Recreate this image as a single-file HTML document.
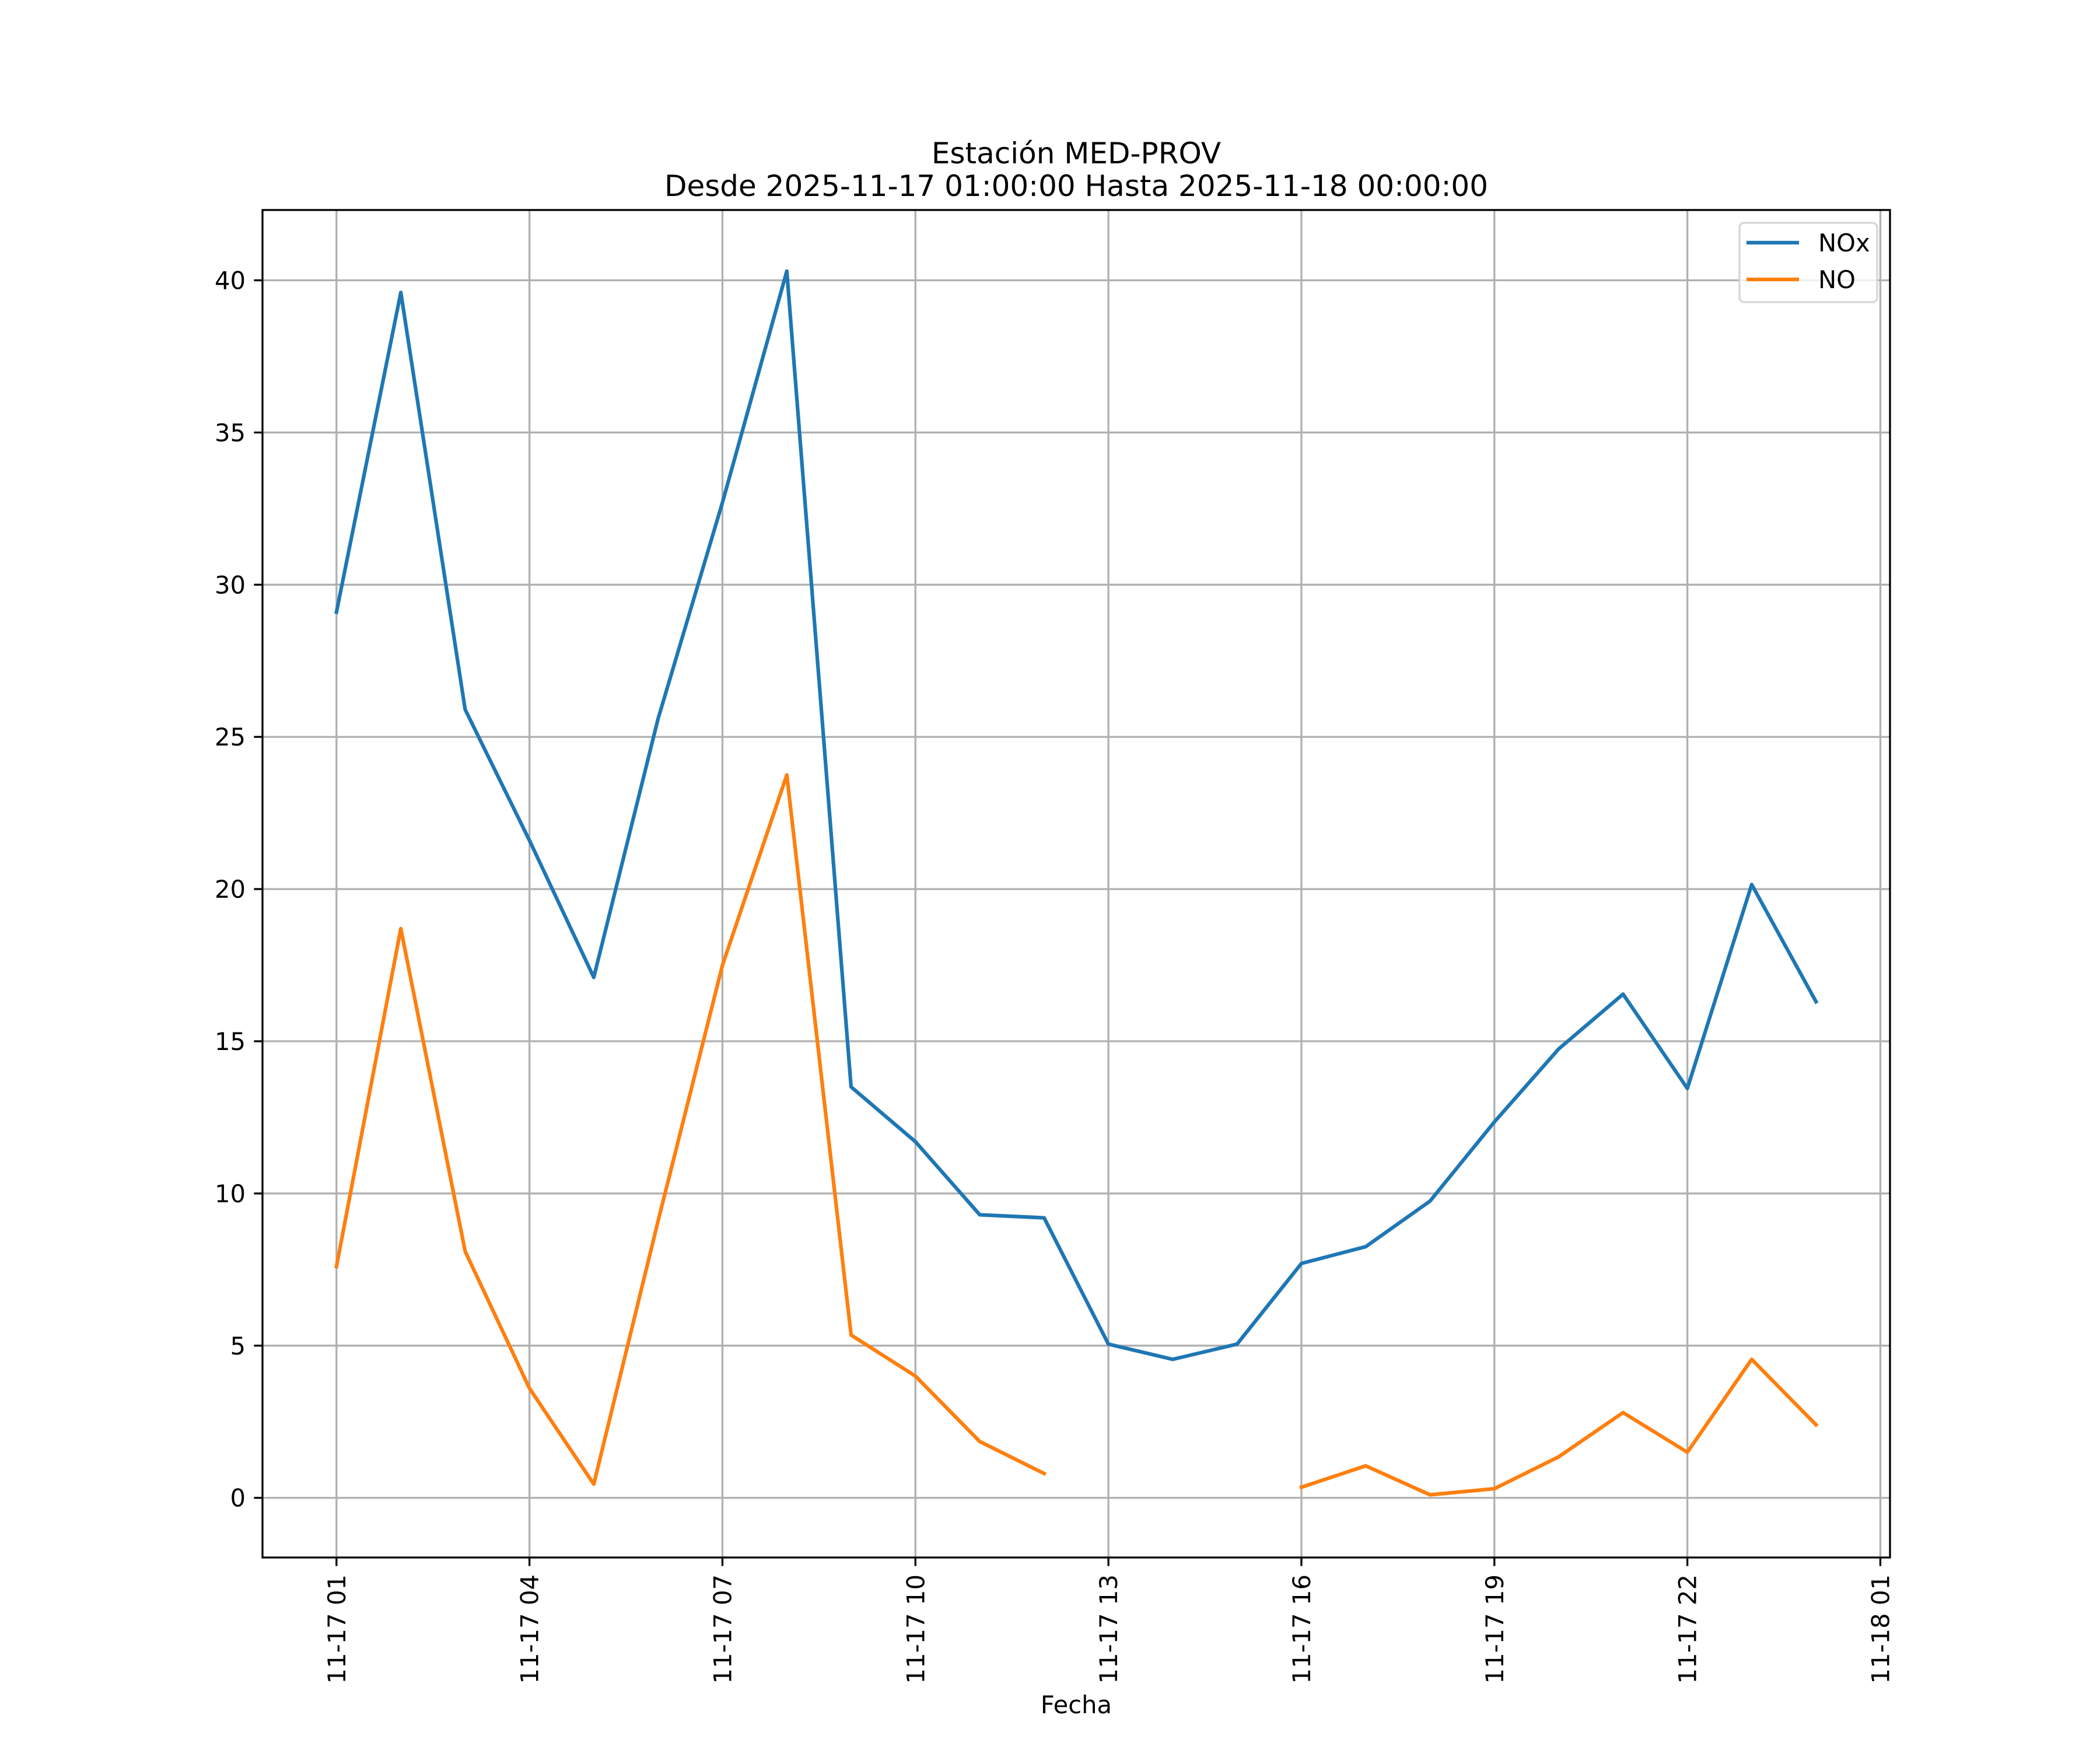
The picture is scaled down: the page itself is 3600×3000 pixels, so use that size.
<!DOCTYPE html>
<html><head><meta charset="utf-8"><style>html,body{margin:0;padding:0;background:#fff}svg{display:block}text{font-family:"DejaVu Sans","Liberation Sans",sans-serif;fill:#000}</style></head>
<body>
<svg id="chart" width="3600" height="3000" viewBox="0 0 3600 3000" xmlns="http://www.w3.org/2000/svg">
<rect width="3600" height="3000" fill="#fff"/>
<text x="1845" y="280" font-size="50" text-anchor="middle">Estación MED-PROV</text>
<text x="1845" y="336" font-size="50" text-anchor="middle">Desde 2025-11-17 01:00:00 Hasta 2025-11-18 00:00:00</text>
<g id="grid"></g>
<g id="series"></g>
<rect x="450" y="360" width="2790" height="2310" fill="none" stroke="#000" stroke-width="3.3"/>
<g id="ticks"></g>
<text x="1845" y="2937" font-size="41.7" text-anchor="middle">Fecha</text>
<g>
<rect x="2982" y="382" width="236" height="136" rx="8" fill="#fff" fill-opacity="0.8" stroke="#d6d6d6" stroke-width="3.3"/>
<line x1="2994" y1="416" x2="3084" y2="416" stroke="#1f77b4" stroke-width="6.25"/>
<text x="3117" y="431" font-size="41.7">NOx</text>
<line x1="2994" y1="479" x2="3084" y2="479" stroke="#ff7f0e" stroke-width="6.25"/>
<text x="3117" y="494" font-size="41.7">NO</text>
</g>
</svg>
<script>
const hours = [1,2,3,4,5,6,7,8,9,10,11,12,13,14,15,16,17,18,19,20,21,22,23,24];
const noxValues = [29.1,39.6,25.9,21.6,17.1,25.6,32.7,40.3,13.5,11.7,9.3,9.2,5.05,4.55,5.05,7.7,8.25,9.75,12.35,14.75,16.55,13.45,20.15,16.3];
const noValues = [7.6,18.7,8.1,3.6,0.45,9.1,17.5,23.75,5.35,4.0,1.85,0.8,null,null,null,0.35,1.05,0.1,0.3,1.35,2.8,1.5,4.55,2.4];
const xTickHours = [1,4,7,10,13,16,19,22,25];
const xTickLabels = ["11-17 01","11-17 04","11-17 07","11-17 10","11-17 13","11-17 16","11-17 19","11-17 22","11-18 01"];
const yTicks = [0,5,10,15,20,25,30,35,40];

const NS = "http://www.w3.org/2000/svg";
const L = 450, R = 3240, T = 360, B = 2670;
const allVals = noxValues.concat(noValues).filter(v => v !== null);
const yMinD = Math.min(...allVals), yMaxD = Math.max(...allVals);
const yPad = (yMaxD - yMinD) * 0.05;
const y0 = yMinD - yPad - 0.05, y1 = yMaxD + yPad;
const xMinD = Math.min(...hours), xMaxD = Math.max(...hours);
const xPad = (xMaxD - xMinD) * 0.05;
const x0 = xMinD - xPad, x1 = xMaxD + xPad;
function xs(h) { return L + (h - x0) / (x1 - x0) * (R - L); }
function ys(v) { return B - (v - y0) / (y1 - y0) * (B - T); }
function mk(tag, attrs, parent) {
  const e = document.createElementNS(NS, tag);
  for (const k in attrs) e.setAttribute(k, attrs[k]);
  parent.appendChild(e);
  return e;
}
const grid = document.getElementById('grid');
const ticks = document.getElementById('ticks');
const series = document.getElementById('series');

xTickHours.forEach((h, i) => {
  const x = xs(h);
  if (x <= R) {
    const g = mk('line', {x1: x, y1: T, x2: x, y2: B, stroke: '#b0b0b0', 'stroke-width': 3.3}, grid);
    
    
  }
  const t = mk('line', {x1: x, y1: B, x2: x, y2: B + 14.6, stroke: '#000', 'stroke-width': 3.3}, ticks);
  
  
  const lb = mk('text', {x: 0, y: 0, 'font-size': 41.7, 'text-anchor': 'end', transform: 'translate(' + (x + 15) + ',' + (B + 29) + ') rotate(-90)'}, ticks);
  lb.textContent = xTickLabels[i];
  
  
});
yTicks.forEach(v => {
  const y = ys(v);
  const g = mk('line', {x1: L, y1: y, x2: R, y2: y, stroke: '#b0b0b0', 'stroke-width': 3.3}, grid);
  
  
  const t = mk('line', {x1: L - 14.6, y1: y, x2: L, y2: y, stroke: '#000', 'stroke-width': 3.3}, ticks);
  
  
  const lb = mk('text', {x: L - 29, y: y + 15, 'font-size': 41.7, 'text-anchor': 'end'}, ticks);
  lb.textContent = String(v);
  
  
});
function drawSeries(vals, color, name) {
  let d = '', pen = false;
  vals.forEach((v, i) => {
    if (v === null) { pen = false; return; }
    d += (pen ? 'L' : 'M') + xs(hours[i]).toFixed(1) + ',' + ys(v).toFixed(1);
    pen = true;
  });
  const p = mk('path', {d: d, fill: 'none', stroke: color, 'stroke-width': 6.25, 'stroke-linejoin': 'round', 'stroke-linecap': 'square'}, series);
  
  
}
drawSeries(noxValues, '#1f77b4', 'nox-line');
drawSeries(noValues, '#ff7f0e', 'no-line');
</script>
</body></html>
